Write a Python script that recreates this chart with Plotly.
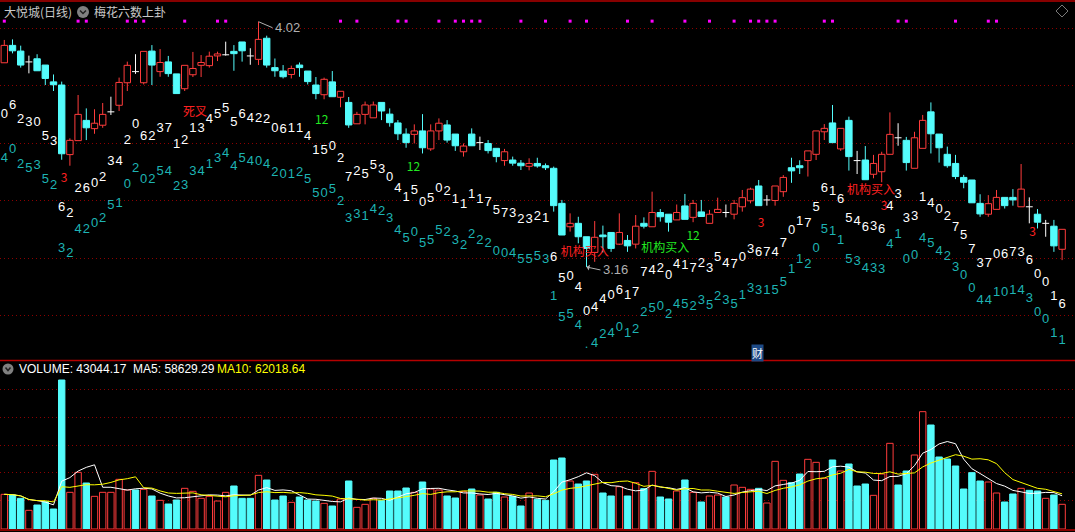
import plotly.graph_objects as go
import pandas as pd

# ---------------- data ----------------
opens = [3.876,3.937,3.917,3.879,3.890,3.868,3.809,3.798,3.554,3.603,
         3.674,3.645,3.657,3.704,3.727,3.806,3.845,3.806,3.917,3.845,
         3.879,3.837,3.785,3.834,3.867,3.866,3.900,3.904,3.916,3.949,
         3.900,3.888,3.962,3.859,3.847,3.835,3.868,3.847,3.798,3.764,
         3.809,3.755,3.737,3.662,3.695,3.683,3.737,3.696,3.665,3.626,
         3.625,3.637,3.574,3.637,3.658,3.626,3.564,3.626,3.596,3.593,
         3.576,3.533,3.535,3.524,3.513,3.523,3.515,3.506,3.383,3.301,
         3.313,3.266,3.211,3.272,3.281,3.240,3.253,3.240,3.313,3.301,
         3.351,3.345,3.325,3.374,3.334,3.353,3.313,3.351,3.351,3.345,
         3.371,3.392,3.444,3.395,3.393,3.424,3.508,3.515,3.533,3.555,
         3.634,3.665,3.574,3.674,3.533,3.535,3.485,3.494,3.555,3.613,
         3.604,3.506,3.576,3.704,3.626,3.555,3.523,3.474,3.465,3.383,
         3.345,3.362,3.404,3.404,3.371,3.371,3.345,3.313,3.303,3.222]
highs = [3.956,3.958,3.936,3.901,3.906,3.868,3.835,3.810,3.611,3.763,
         3.716,3.713,3.735,3.757,3.824,3.880,3.906,3.916,3.938,3.924,
         3.900,3.837,3.867,3.914,3.903,3.915,3.915,3.950,3.938,3.949,
         3.927,4.020,3.971,3.891,3.868,3.866,3.877,3.847,3.826,3.824,
         3.847,3.776,3.756,3.704,3.740,3.740,3.737,3.716,3.675,3.646,
         3.660,3.696,3.660,3.681,3.675,3.626,3.593,3.646,3.617,3.605,
         3.576,3.574,3.547,3.535,3.541,3.543,3.523,3.512,3.395,3.348,
         3.336,3.266,3.321,3.305,3.281,3.348,3.272,3.342,3.334,3.424,
         3.363,3.345,3.379,3.416,3.395,3.395,3.360,3.403,3.379,3.395,
         3.430,3.438,3.465,3.412,3.444,3.482,3.543,3.534,3.567,3.637,
         3.661,3.728,3.646,3.687,3.567,3.584,3.553,3.564,3.702,3.664,
         3.616,3.634,3.693,3.737,3.626,3.582,3.553,3.483,3.465,3.415,
         3.412,3.430,3.404,3.433,3.521,3.404,3.363,3.325,3.325,3.292]
lows = [3.876,3.909,3.859,3.839,3.848,3.798,3.777,3.536,3.515,3.603,
        3.605,3.627,3.648,3.693,3.707,3.777,3.837,3.800,3.798,3.827,
        3.827,3.768,3.777,3.826,3.826,3.859,3.882,3.901,3.848,3.880,
        3.869,3.868,3.859,3.827,3.821,3.821,3.827,3.800,3.748,3.748,
        3.757,3.720,3.648,3.662,3.660,3.683,3.675,3.652,3.605,3.578,
        3.593,3.558,3.567,3.605,3.596,3.567,3.547,3.585,3.570,3.558,
        3.527,3.515,3.515,3.500,3.499,3.508,3.500,3.354,3.272,3.284,
        3.243,3.160,3.178,3.211,3.213,3.237,3.213,3.225,3.295,3.301,
        3.319,3.284,3.325,3.327,3.317,3.337,3.313,3.351,3.334,3.327,
        3.354,3.383,3.375,3.375,3.375,3.406,3.455,3.486,3.477,3.535,
        3.605,3.596,3.567,3.498,3.486,3.466,3.471,3.457,3.555,3.585,
        3.498,3.506,3.576,3.558,3.526,3.508,3.468,3.436,3.385,3.336,
        3.336,3.362,3.365,3.375,3.371,3.313,3.295,3.266,3.213,3.184]
closes = [3.937,3.918,3.868,3.879,3.848,3.821,3.799,3.557,3.604,3.695,
          3.648,3.664,3.695,3.704,3.807,3.867,3.845,3.916,3.868,3.877,
          3.838,3.768,3.867,3.856,3.877,3.899,3.907,3.904,3.908,3.918,
          3.900,3.958,3.868,3.848,3.827,3.856,3.859,3.810,3.768,3.818,
          3.757,3.776,3.658,3.695,3.728,3.728,3.707,3.666,3.627,3.596,
          3.637,3.578,3.637,3.664,3.605,3.585,3.584,3.585,3.596,3.568,
          3.547,3.564,3.524,3.515,3.523,3.514,3.508,3.375,3.272,3.313,
          3.266,3.225,3.264,3.266,3.225,3.281,3.234,3.303,3.303,3.351,
          3.336,3.317,3.351,3.327,3.383,3.337,3.345,3.362,3.351,3.383,
          3.403,3.433,3.375,3.395,3.444,3.474,3.497,3.508,3.567,3.637,
          3.646,3.596,3.646,3.547,3.533,3.466,3.523,3.555,3.625,3.613,
          3.526,3.613,3.674,3.627,3.578,3.515,3.477,3.457,3.385,3.346,
          3.382,3.404,3.375,3.395,3.433,3.371,3.317,3.313,3.234,3.292]
volumes = [60420,59260,53450,32540,41830,47640,34860,259710,63910,98770,
           80180,56940,63910,63910,86570,67980,67980,69140,57520,49970,
           43580,50550,70880,65650,53450,56940,48800,63910,74950,53450,
           53450,93540,85410,50550,57520,46480,55780,50550,48800,44740,
           40090,52290,83660,37770,42990,53450,49390,66230,66230,71460,
           63910,81920,69720,67980,57520,54030,65070,69720,59260,52290,
           63910,55780,56940,40090,62750,51710,49970,120270,123750,83660,
           78440,83660,95280,62750,57520,73790,57520,80760,70300,100510,
           55780,52290,66230,85410,63910,47060,57520,59260,55780,76690,
           72630,69140,70880,45320,117940,84830,80760,95870,121430,116200,
           88310,120270,101090,113300,74950,78440,58680,95870,149320,76690,
           101090,128980,204510,181270,125500,122010,109810,69720,98190,83660,
           81920,62750,47060,61010,70880,67400,66230,53450,59260,43044.17]
# r = rising-day volume bar, c = falling-day volume bar
vol_colors = ("rccrccccrr" "crrrrrcrcr" "ccrrrrrrcc" "crcccrcccr" "crcrrrcccc"
              "rcrrccrcrc" "crccrccccr" "ccrccrcrcr" "ccrcrcrrcr" "rrcrrrccrr"
              "rcrcccrrrc" "crrccccccc" "rrccrccrcr")

# 梅花六数 digits (upper white row and lower cyan row), one per candle
white_digits = ("0623053622" "6023420623" "7121345556" "4220611415" "0272553041"
                "5050211117" "5732321650" "4044061774" "2041723547" "0367470175"
                "6165463643" "3314027573" "7067360016")
white_levels = [3.695,3.724,3.677,3.664,3.667,3.617,3.599,3.366,3.348,3.436,
                3.436,3.453,3.473,3.529,3.529,3.602,3.658,3.617,3.617,3.646,
                3.646,3.590,3.602,3.646,3.646,3.675,3.693,3.714,3.667,3.695,
                3.681,3.681,3.675,3.643,3.640,3.644,3.646,3.617,3.567,3.567,
                3.580,3.541,3.474,3.494,3.485,3.514,3.500,3.474,3.436,3.403,
                3.426,3.385,3.398,3.436,3.424,3.395,3.377,3.413,3.397,3.385,
                3.356,3.348,3.346,3.327,3.327,3.336,3.328,3.194,3.117,3.126,
                3.087,3.003,3.017,3.044,3.060,3.076,3.058,3.070,3.138,3.146,
                3.155,3.128,3.169,3.165,3.155,3.173,3.155,3.194,3.173,3.167,
                3.194,3.219,3.210,3.210,3.210,3.243,3.287,3.319,3.311,3.366,
                3.436,3.424,3.397,3.328,3.319,3.299,3.301,3.290,3.372,3.413,
                3.328,3.336,3.403,3.383,3.360,3.336,3.298,3.270,3.219,3.173,
                3.173,3.204,3.204,3.211,3.211,3.182,3.134,3.106,3.056,3.029]
cyan_digits = ("4025352324" "2025102025" "4233413445" "4042012550" "5233142345"
               "0555232222" "0045553155" "4.42401225" "0245235235" "1331551120"
               "5115343341" "0045423004" "4101430011")
cyan_levels = [3.541,3.570,3.520,3.504,3.514,3.465,3.445,3.225,3.208,3.290,
               3.290,3.310,3.328,3.374,3.383,3.447,3.504,3.465,3.465,3.494,
               3.494,3.442,3.445,3.494,3.494,3.520,3.541,3.558,3.512,3.541,
               3.529,3.529,3.520,3.491,3.485,3.485,3.492,3.465,3.418,3.418,
               3.430,3.389,3.328,3.342,3.336,3.362,3.354,3.328,3.286,3.258,
               3.281,3.243,3.252,3.286,3.281,3.252,3.234,3.272,3.252,3.243,
               3.214,3.208,3.208,3.187,3.187,3.196,3.187,3.056,2.983,2.992,
               2.954,2.886,2.892,2.922,2.927,2.948,2.927,2.939,3.000,3.013,
               3.021,2.994,3.029,3.029,3.021,3.042,3.023,3.056,3.042,3.029,
               3.060,3.085,3.077,3.077,3.077,3.105,3.152,3.184,3.169,3.225,
               3.290,3.284,3.252,3.184,3.179,3.153,3.155,3.149,3.239,3.272,
               3.187,3.198,3.258,3.243,3.214,3.196,3.159,3.130,3.085,3.041,
               3.041,3.068,3.068,3.076,3.076,3.050,3.001,2.974,2.927,2.900]
# signal labels: text, candle position, price level, colour key
signal_text = ["死叉", "12", "12", "3", "机构买入", "机构买入", "12", "3", "机构买入", "3", "3"]
signal_pos = [23.25, 38.7, 49.9, 7.3, 70.8, 80.6, 84.0, 92.3, 105.7, 107.3, 125.4]
signal_level = [3.699, 3.673, 3.506, 3.468, 3.208, 3.224, 3.266, 3.310, 3.428, 3.371, 3.278]
signal_color = ["r", "g", "g", "r", "r", "g", "g", "r", "r", "r", "r"]
# magenta marks on top row (candle positions)
mark_pos = [0, 9, 10, 15, 16, 17, 22, 26, 27, 41, 43, 48, 49, 53, 55, 56, 57, 58, 63, 66,
            69, 71, 76, 79, 83, 86, 89, 91, 92, 93, 94, 100, 101, 109, 110, 116, 120, 121]
price_grid = [3.9969, 3.7970, 3.5947, 3.3938, 3.1904, 2.9906]
vol_grid = [50020, 98830, 145890, 194690, 243500]
vol_label = "VOLUME: 43044.17  MA5: 58629.29"
ma10_label = "MA10: 62018.64"

# ---------------- styling ----------------
W, H = 1075, 532
RED = "#FF3C3C"
CYAN = "#54FCFC"
WHITE = "#FFFFFF"
TXT_CYAN = "#1EB4B4"
GRID = "#8C0000"
MAG = "#FF00FF"
GREEN = "#22E822"
SIG = {"r": "#FF2020", "g": GREEN}
MARK_LEVEL = 4.022


def px(x):
    return x / W


def py(y):
    return 1 - y / H


n = len(opens)
idx = list(range(n))
kind = ["up" if c > o else ("down" if c < o else "doji") for o, c in zip(opens, closes)]

fig = go.Figure()

# wicks (only the parts outside the bodies)
for k, col in (("up", RED), ("down", CYAN), ("doji", WHITE)):
    xs, ys = [], []
    for i in idx:
        if kind[i] != k:
            continue
        top = max(opens[i], closes[i])
        bot = min(opens[i], closes[i])
        xs += [i, i, None, i, i, None]
        ys += [highs[i], top, None, bot, lows[i], None]
    fig.add_trace(go.Scatter(x=xs, y=ys, mode="lines", line=dict(color=col, width=1),
                             hoverinfo="skip", showlegend=False))

# bodies
up_i = [i for i in idx if kind[i] == "up"]
dn_i = [i for i in idx if kind[i] == "down"]
fig.add_trace(go.Bar(x=up_i, y=[closes[i] - opens[i] for i in up_i], base=[opens[i] for i in up_i],
                     width=0.78, marker=dict(color="#000000", line=dict(color=RED, width=1)),
                     hoverinfo="skip", showlegend=False))
fig.add_trace(go.Bar(x=dn_i, y=[opens[i] - closes[i] for i in dn_i], base=[closes[i] for i in dn_i],
                     width=0.78, marker=dict(color=CYAN, line=dict(color=CYAN, width=1)),
                     hoverinfo="skip", showlegend=False))
dx, dy = [], []
for i in idx:
    if kind[i] == "doji":
        dx += [i - 0.42, i + 0.42, None]
        dy += [opens[i], opens[i], None]
fig.add_trace(go.Scatter(x=dx, y=dy, mode="lines", line=dict(color=WHITE, width=1),
                         hoverinfo="skip", showlegend=False))

# digit rows
fig.add_trace(go.Scatter(x=idx, y=white_levels, mode="text", text=list(white_digits),
                         textfont=dict(family="Liberation Sans", size=13, color=WHITE),
                         textposition="middle center", hoverinfo="skip", showlegend=False))
fig.add_trace(go.Scatter(x=idx, y=cyan_levels, mode="text", text=list(cyan_digits),
                         textfont=dict(family="Liberation Sans", size=13, color=TXT_CYAN),
                         textposition="middle center", hoverinfo="skip", showlegend=False))
# signals
for t, p, l, c in zip(signal_text, signal_pos, signal_level, signal_color):
    fig.add_trace(go.Scatter(x=[p], y=[l], mode="text", text=[t],
                             textfont=dict(family="Noto Sans CJK SC, Liberation Sans", size=12, color=SIG[c]),
                             textposition="middle center", hoverinfo="skip", showlegend=False))
# magenta marks
fig.add_trace(go.Scatter(x=mark_pos, y=[MARK_LEVEL] * len(mark_pos), mode="markers",
                         marker=dict(symbol="square", size=3, color=MAG, line=dict(width=0)),
                         hoverinfo="skip", showlegend=False))

# volume panel
v_up = [i for i in idx if vol_colors[i] == "r"]
v_dn = [i for i in idx if vol_colors[i] == "c"]
fig.add_trace(go.Bar(x=v_up, y=[volumes[i] for i in v_up], width=0.78, xaxis="x2", yaxis="y2",
                     marker=dict(color="#000000", line=dict(color=RED, width=1)),
                     hoverinfo="skip", showlegend=False))
fig.add_trace(go.Bar(x=v_dn, y=[volumes[i] for i in v_dn], width=0.78, xaxis="x2", yaxis="y2",
                     marker=dict(color=CYAN, line=dict(color=CYAN, width=1)),
                     hoverinfo="skip", showlegend=False))
vs = pd.Series(volumes)
ma5 = vs.rolling(5, min_periods=1).mean()
ma10 = vs.rolling(10, min_periods=1).mean()
fig.add_trace(go.Scatter(x=idx, y=ma5, mode="lines", line=dict(color=WHITE, width=1),
                         xaxis="x2", yaxis="y2", hoverinfo="skip", showlegend=False))
fig.add_trace(go.Scatter(x=idx, y=ma10, mode="lines", line=dict(color="#FFFF00", width=1),
                         xaxis="x2", yaxis="y2", hoverinfo="skip", showlegend=False))

xr = [-0.524, 130.573]
ax_common = dict(showticklabels=False, zeroline=False, showline=False, ticks="")
fig.update_layout(
    width=W, height=H, margin=dict(l=0, r=0, t=0, b=0),
    paper_bgcolor="#000000", plot_bgcolor="#000000",
    barmode="overlay", showlegend=False, hovermode=False,
    xaxis=dict(range=xr, domain=[0, 1], anchor="y", showgrid=False, **ax_common),
    xaxis2=dict(range=xr, domain=[0, 1], anchor="y2", showgrid=False, **ax_common),
    yaxis=dict(range=[2.8373, 4.0891], domain=[py(359), py(2)], tickvals=price_grid,
               showgrid=True, gridcolor=GRID, gridwidth=1, griddash="1px,3px", **ax_common),
    yaxis2=dict(range=[0, 292824], domain=[py(529), py(361)], tickvals=vol_grid,
                showgrid=True, gridcolor=GRID, gridwidth=1, griddash="1px,3px", **ax_common),
)

shapes = [
    dict(type="line", xref="paper", yref="paper", x0=0, x1=1, y0=py(1), y1=py(1),
         line=dict(color="#B40000", width=1.5)),
    dict(type="line", xref="paper", yref="paper", x0=0, x1=1, y0=py(360.5), y1=py(360.5),
         line=dict(color="#B40000", width=1.5)),
    dict(type="line", xref="paper", yref="paper", x0=0, x1=1, y0=py(530), y1=py(530),
         line=dict(color="#B40000", width=1.5)),
    # title dropdown icons
    dict(type="circle", xref="paper", yref="paper", x0=px(77), x1=px(89), y0=py(18), y1=py(6),
         fillcolor="#808080", line=dict(width=0)),
    dict(type="path", xref="paper", yref="paper",
         path=f"M {px(80)},{py(10.5)} L {px(83)},{py(13.5)} L {px(86)},{py(10.5)}",
         line=dict(color="#202020", width=1.5)),
    dict(type="circle", xref="paper", yref="paper", x0=px(2.5), x1=px(13.5), y0=py(374.5), y1=py(363.5),
         fillcolor="#808080", line=dict(width=0)),
    dict(type="path", xref="paper", yref="paper",
         path=f"M {px(5.5)},{py(367.5)} L {px(8)},{py(370.5)} L {px(10.5)},{py(367.5)}",
         line=dict(color="#202020", width=1.5)),
    dict(type="path", xref="paper", yref="paper",
         path=f"M {px(1062)},{py(5)} L {px(1068)},{py(11)} L {px(1062)},{py(17)} L {px(1056)},{py(11)} Z",
         line=dict(color="#7A7A7A", width=1)),
]
fig.update_layout(shapes=shapes)

cjk = "Noto Sans CJK SC"
ann = [
    dict(xref="paper", yref="paper", x=px(2), y=py(12), text="大悦城(日线)", showarrow=False,
         xanchor="left", yanchor="middle", font=dict(family=cjk, size=12, color="#C8C8C8")),
    dict(xref="paper", yref="paper", x=px(92), y=py(12), text="梅花六数上卦", showarrow=False,
         xanchor="left", yanchor="middle", font=dict(family=cjk, size=12, color="#C8C8C8")),
    dict(xref="paper", yref="paper", x=px(17), y=py(369), text=vol_label, showarrow=False,
         xanchor="left", yanchor="middle", font=dict(family="Liberation Sans", size=12, color="#FFFFFF")),
    dict(xref="paper", yref="paper", x=px(215), y=py(369), text=ma10_label, showarrow=False,
         xanchor="left", yanchor="middle", font=dict(family="Liberation Sans", size=12, color="#FFFF00")),
    dict(xref="paper", yref="paper", x=px(757.5), y=py(352.5), text="财", showarrow=False,
         xanchor="center", yanchor="middle", bgcolor="#1E4A86", borderpad=0,
         font=dict(family=cjk, size=11, color="#FFFFFF")),
    dict(x=highs.index(max(highs)), y=max(highs), xref="x", yref="y", text="4.02",
         showarrow=True, arrowhead=0, arrowwidth=1, arrowcolor="#B0B0B0", ax=14, ay=6,
         xanchor="left", yanchor="middle", font=dict(family="Liberation Sans", size=13, color="#B0B0B0")),
    dict(x=lows.index(min(lows)), y=min(lows), xref="x", yref="y", text="3.16",
         showarrow=True, arrowhead=1, arrowwidth=1, arrowcolor="#B0B0B0", ax=14, ay=3,
         xanchor="left", yanchor="middle", font=dict(family="Liberation Sans", size=13, color="#B0B0B0")),
]
fig.update_layout(annotations=ann)

fig.write_html("out.html", config={"displayModeBar": False},
               post_script="document.body.style.margin='0';document.body.style.background='#000';")
